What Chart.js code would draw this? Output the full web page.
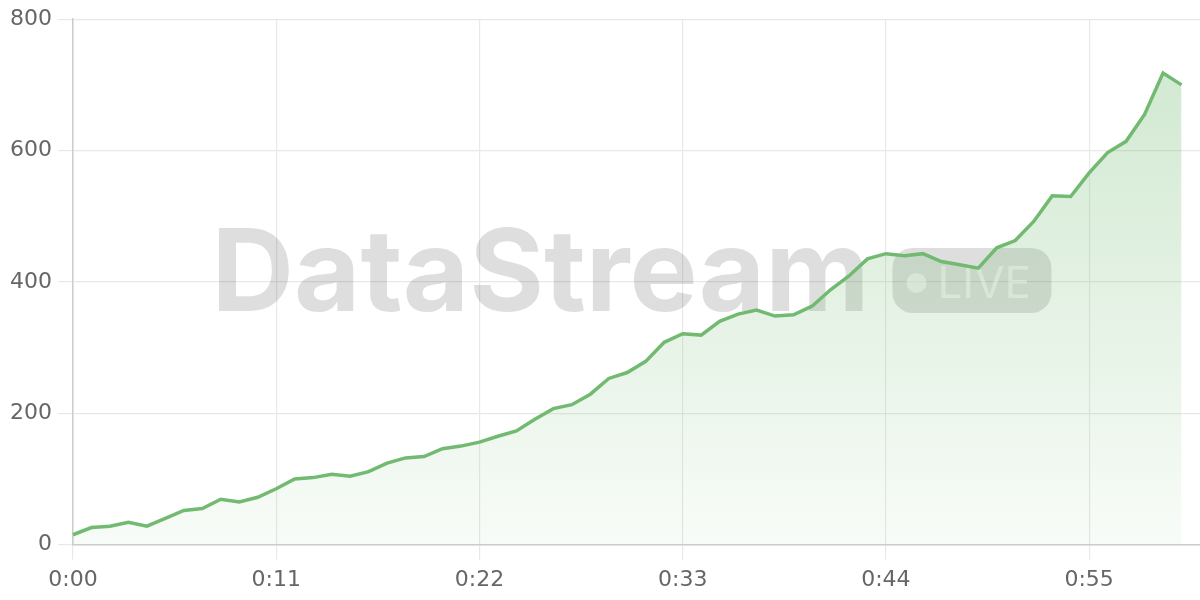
<!DOCTYPE html>
<html>
<head>
<meta charset="utf-8">
<script src="https://cdn.jsdelivr.net/npm/chart.js@4.4.1/dist/chart.umd.min.js"></script>
<style>
  html, body { margin: 0; padding: 0; background: #fff; }
  #wrap { width: 1200px; height: 600px; }
</style>
</head>
<body>
<div id="wrap"><canvas id="chart"></canvas></div>
<script>
// one sample per minute, 0:00 .. 1:00 (axis runs one step further)
const viewers = [
  15, 26, 28, 34, 28, 40, 52, 55, 69, 65,
  72, 85, 100, 102, 107, 104, 111, 124, 132, 134,
  146, 150, 156, 165, 173, 191, 207, 213, 229, 253,
  262, 279, 308, 321, 319, 340, 351, 357, 348, 350,
  363, 388, 409, 435, 443, 440, 443, 431, 426, 421,
  452, 463, 492, 531, 530, 566, 597, 614, 655, 718,
  700
];
const axisSteps = 62;
const tickEvery = 11;
const yTicks = [0, 200, 400, 600, 800];

const timeLabels = Array.from({ length: axisSteps }, (_, i) =>
  Math.floor(i / 60) + ':' + String(i % 60).padStart(2, '0'));

const lineColor = 'rgb(114, 186, 114)';

// big grey "DataStream • LIVE" mark behind the line
const watermark = {
  id: 'watermark',
  beforeDatasetsDraw(chart) {
    const { ctx, chartArea: a } = chart;
    const cx = (a.left + a.right) / 2 - 5;
    const cy = (a.top + a.bottom) / 2;
    ctx.save();
    ctx.font = '700 114px Inter, "DejaVu Sans", sans-serif';
    let w = ctx.measureText('DataStream').width;
    const size = 114 * 658 / w;
    ctx.font = `700 ${size}px Inter, "DejaVu Sans", sans-serif`;
    w = ctx.measureText('DataStream').width;
    const badgeW = 159, badgeH = 65, gap = 23;
    const x0 = cx - (w + gap + badgeW) / 2;
    ctx.fillStyle = 'rgba(0, 0, 0, 0.13)';
    ctx.textBaseline = 'alphabetic';
    ctx.fillText('DataStream', x0, cy + 29);

    const bx = x0 + w + gap, by = cy - 34;
    ctx.beginPath();
    ctx.roundRect(bx, by, badgeW, badgeH, 20);
    ctx.fill();
    ctx.fillStyle = 'rgba(255, 255, 255, 0.55)';
    ctx.beginPath();
    ctx.arc(bx + 24, cy + 1, 10, 0, Math.PI * 2);
    ctx.fill();
    ctx.font = '400 44px Inter, "DejaVu Sans", sans-serif';
    ctx.fillText('LIVE', bx + 45, cy + 16);
    ctx.restore();
  }
};

new Chart(document.getElementById('chart'), {
  type: 'line',
  data: {
    labels: timeLabels,
    datasets: [{
      data: viewers,
      borderColor: lineColor,
      borderWidth: 3.5,
      pointRadius: 0,
      tension: 0,
      fill: 'origin',
      backgroundColor: ctx => {
        const area = ctx.chart.chartArea;
        if (!area) return 'rgba(114, 186, 114, 0.15)';
        const g = ctx.chart.ctx.createLinearGradient(0, area.top, 0, area.bottom);
        g.addColorStop(0, 'rgba(114, 186, 114, 0.35)');
        g.addColorStop(1, 'rgba(114, 186, 114, 0.05)');
        return g;
      }
    }]
  },
  options: {
    responsive: true,
    maintainAspectRatio: false,
    animation: false,
    layout: { padding: { top: 6, right: 0, left: 4 } },
    plugins: { legend: { display: false }, tooltip: { enabled: false } },
    scales: {
      x: {
        grid: { color: '#e8e8e8', lineWidth: 1.2, tickLength: 15 },
        border: { color: '#cccccc', width: 1.5 },
        ticks: {
          autoSkip: false,
          maxRotation: 0,
          padding: 7,
          color: '#666',
          font: { family: '"DejaVu Sans", sans-serif', size: 22 },
          callback: (v, i) => i % tickEvery === 0 && i < 60 ? timeLabels[i] : null
        }
      },
      y: {
        min: yTicks[0],
        max: yTicks[yTicks.length - 1],
        afterBuildTicks: s => { s.ticks = yTicks.map(v => ({ value: v })); },
        grid: { color: '#e8e8e8', lineWidth: 1.2, tickLength: 15 },
        border: { color: '#cccccc', width: 1.5 },
        ticks: {
          padding: 6,
          color: '#666',
          font: { family: '"DejaVu Sans", sans-serif', size: 22 }
        }
      }
    }
  },
  plugins: [watermark]
});
</script>
</body>
</html>
